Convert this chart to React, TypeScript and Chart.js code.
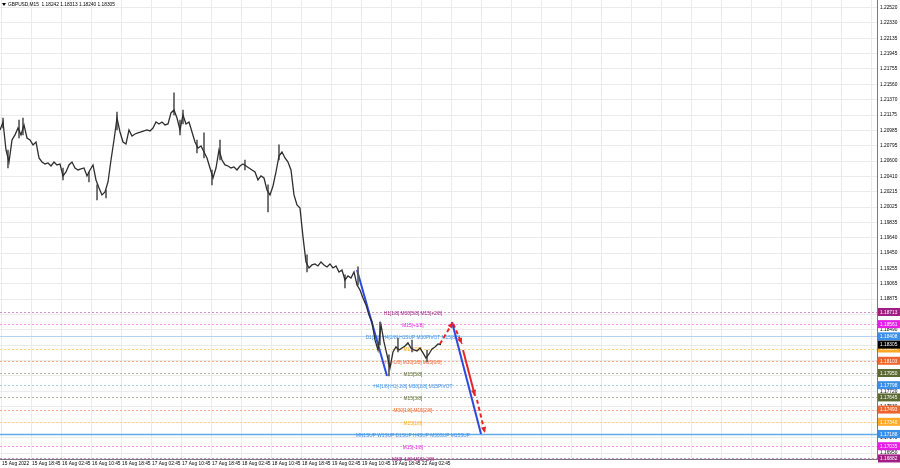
import React, { useEffect, useRef } from 'react';
import { Chart, registerables } from 'chart.js';

Chart.register(...registerables);

const symbolTitle = 'GBPUSD,M15  1.18242 1.18313 1.18240 1.18305';
const lastPrice = 1.18305;

// close prices sampled every BAR_STEP bars
const BAR_STEP = 3.2;
const closes = [
  1.20988, 1.21088, 1.20738, 1.20588, 1.20863, 1.20926, 1.21013, 1.20926, 1.21051, 1.20888,
  1.20863, 1.20801, 1.20838, 1.20638, 1.20588, 1.20563, 1.20576, 1.20538, 1.20588, 1.20551,
  1.20563, 1.20413, 1.20463, 1.20551, 1.20588, 1.20513, 1.20488, 1.20501, 1.20513, 1.20413,
  1.20488, 1.20551, 1.20363, 1.20263, 1.20176, 1.20213, 1.20338, 1.20613, 1.20863, 1.21138,
  1.20963, 1.20838, 1.20813, 1.20988, 1.20913, 1.20938, 1.20951, 1.20963, 1.20976, 1.20988,
  1.20976, 1.21013, 1.21088, 1.21063, 1.21088, 1.21051, 1.21063, 1.21201, 1.21238, 1.21138,
  1.20988, 1.21176, 1.21063, 1.21088, 1.20963, 1.20838, 1.20763, 1.20788, 1.20713, 1.20638,
  1.20513, 1.20388, 1.20513, 1.20738, 1.20613, 1.20551, 1.20538, 1.20513, 1.20526, 1.20488,
  1.20538, 1.20563, 1.20538, 1.20513, 1.20488, 1.20463, 1.20363, 1.20413, 1.20388, 1.20238,
  1.20176, 1.20288, 1.20463, 1.20663, 1.20713, 1.20638, 1.20588, 1.20488, 1.20176, 1.20051,
  1.20013, 1.19651, 1.19338, 1.19263, 1.19301, 1.19313, 1.19288, 1.19338, 1.19301, 1.19276,
  1.19313, 1.19263, 1.19288, 1.19213, 1.19238, 1.19113, 1.19163, 1.19138, 1.19213, 1.19051,
  1.18988, 1.18888, 1.18801, 1.18676, 1.18588, 1.18363, 1.18238, 1.18551, 1.18338, 1.18176,
  1.18013, 1.18213, 1.18276, 1.18238, 1.18263, 1.18288, 1.18326, 1.18263, 1.18238, 1.18226,
  1.18263, 1.18201, 1.18138, 1.18188, 1.18251, 1.18276, 1.18313, 1.18305,
];

// notable candle wicks: bar index, high, low
const wickBars = [
  3.2, 8.5, 20.3, 24.5, 67.2, 94.9, 103.5, 113.1, 124.8, 185.6, 192, 195.2, 210.1, 217.6,
  226.1, 234.7, 261.3, 285.9, 297.6, 327.5, 368, 381.9, 405.3, 414.9, 424.5, 439.5, 455.5,
];
const wickHighs = [
  1.21138, 1.20738, 1.21113, 1.21138, 1.20513, 1.20463, 1.20301, 1.20238, 1.21213, 1.21451,
  1.21113, 1.21238, 1.20863, 1.20951, 1.20488, 1.20863, 1.20613, 1.20301, 1.20801, 1.19426,
  1.19176, 1.19276, 1.18588, 1.18176, 1.18388, 1.18363, 1.18238,
];
const wickLows = [
  1.21013, 1.20513, 1.20888, 1.20926, 1.20363, 1.20338, 1.20113, 1.20138, 1.20988, 1.21176,
  1.20926, 1.21063, 1.20701, 1.20638, 1.20301, 1.20613, 1.20488, 1.19963, 1.20613, 1.19213,
  1.19013, 1.19051, 1.18301, 1.17913, 1.18213, 1.18213, 1.18088,
];

const xTickLabels = [
  '15 Aug 2022', '15 Aug 18:45', '16 Aug 02:45', '16 Aug 10:45', '16 Aug 18:45',
  '17 Aug 02:45', '17 Aug 10:45', '17 Aug 18:45', '18 Aug 02:45', '18 Aug 10:45',
  '18 Aug 18:45', '19 Aug 02:45', '19 Aug 10:45', '19 Aug 18:45', '22 Aug 02:45',
];
const X_TICK_FIRST = 2.13;
const X_TICK_STEP = 32;
const X_MAX = 935.5;

const yTicks = [
  1.2252, 1.2233, 1.22135, 1.21945, 1.21755, 1.2156, 1.2137, 1.21175, 1.20985, 1.20795,
  1.206, 1.2041, 1.20215, 1.20025, 1.19835, 1.1964, 1.1945, 1.19255, 1.19065, 1.18875,
  1.1868, 1.1849, 1.183, 1.18105, 1.17915, 1.1772, 1.1753, 1.17335, 1.1714, 1.1695,
];
const Y_MIN = 1.16875;
const Y_MAX = 1.22613;

const levelPrices = [
  1.18713, 1.18561, 1.18408, 1.18256, 1.18103, 1.1795, 1.17798, 1.17645, 1.17493, 1.1734,
  1.17188, 1.17035, 1.16882,
];
const levelLabels = [
  'H1[1/8] M30[5/8] M15[+2/8]',
  'M15[+1/8]',
  'D1[1/8] H4[2/8] H1SUP M30PIVOT M15[8/8]',
  'M15[7/8]',
  'H1[-1/8] M30[3/8] M15[6/8]',
  'M15[5/8]',
  'H4[1/8] H1[-2/8] M30[2/8] M15PIVOT',
  'M15[3/8]',
  'M30[1/8] M15[2/8]',
  'M15[1/8]',
  'MN1SUP W1SUP D1SUP H4SUP M30SUP M15SUP',
  'M15[-1/8]',
  'M30[-1/8] M15[-2/8]',
];
const PURPLE = '#a01d86';
const MAGENTA = '#e41ee4';
const BLUE = '#3a8fe6';
const ORANGE = '#ffa726';
const ORANGERED = '#ec652c';
const OLIVE = '#5a6a30';
const levelColors = [
  PURPLE, MAGENTA, BLUE, ORANGE, ORANGERED, OLIVE, BLUE, OLIVE, ORANGERED, ORANGE, BLUE, MAGENTA, PURPLE,
];
const levelLineColors = [
  '#d590c8', '#f09af0', '#b2d4f3', '#ffcf88', '#f4ae8c', '#b4b8a0', '#a8ccef', '#b4b8a0', '#f4ae8c',
  '#ffcf88', '#62aaea', '#f09af0', '#d590c8',
];
const levelSolid = [false, false, true, false, false, false, false, false, false, false, true, false, false];
const LABEL_X = 440.5;

// projection lines (bar index, price)
const blueLine1X = [380.8, 412.8];
const blueLine1Y = [1.19238, 1.17913];
const blueLine2X = [482.1, 513.1];
const blueLine2Y = [1.18588, 1.17188];
const redLeg1X = [469.3, 483.2];
const redLeg1Y = [1.18313, 1.18588];
const redLeg2X = [483.6, 492.8];
const redLeg2Y = [1.18563, 1.18313];
const redLeg3X = [493.9, 506.7];
const redLeg3Y = [1.18238, 1.17663];
const redLeg4X = [508.8, 517.3];
const redLeg4Y = [1.17613, 1.172];

const FONT = '"Liberation Sans", Arial, sans-serif';

const pts = (xs: number[], ys: number[]) => xs.map((x, i) => ({ x, y: ys[i] }));

const overlayPlugin = {
  id: 'overlay',
  beforeDatasetsDraw(chart: any) {
    const { ctx, chartArea, scales } = chart;
    const x = scales.x;
    const y = scales.y;
    ctx.save();
    ctx.beginPath();
    ctx.rect(chartArea.left, chartArea.top, chartArea.right - chartArea.left, chartArea.bottom - chartArea.top + 2);
    ctx.clip();
    levelPrices.forEach((p, i) => {
      const py = Math.round(y.getPixelForValue(p)) + 0.5;
      ctx.strokeStyle = levelLineColors[i];
      ctx.lineWidth = i === 10 ? 1.5 : 1;
      ctx.setLineDash(levelSolid[i] ? [] : [2, 2]);
      ctx.beginPath();
      ctx.moveTo(chartArea.left, py);
      ctx.lineTo(chartArea.right, py);
      ctx.stroke();
    });
    ctx.setLineDash([]);
    ctx.font = '4.8px ' + FONT;
    ctx.textAlign = 'center';
    ctx.textBaseline = 'middle';
    const lx = x.getPixelForValue(LABEL_X);
    levelPrices.forEach((p, i) => {
      ctx.fillStyle = levelColors[i];
      ctx.fillText(levelLabels[i], lx, y.getPixelForValue(p) + 1.5);
    });
    ctx.restore();
  },
  afterDraw(chart: any) {
    const { ctx, chartArea, scales } = chart;
    const y = scales.y;
    ctx.save();
    // arrowheads on red legs
    [4, 5, 6, 7].forEach((di) => {
      const meta = chart.getDatasetMeta(di);
      const a = meta.data[0];
      const b = meta.data[1];
      const ang = Math.atan2(b.y - a.y, b.x - a.x);
      const len = 6;
      const w = 2.6;
      ctx.fillStyle = '#e8262a';
      ctx.beginPath();
      ctx.moveTo(b.x, b.y);
      ctx.lineTo(b.x - len * Math.cos(ang) + w * Math.sin(ang), b.y - len * Math.sin(ang) - w * Math.cos(ang));
      ctx.lineTo(b.x - len * Math.cos(ang) - w * Math.sin(ang), b.y - len * Math.sin(ang) + w * Math.cos(ang));
      ctx.closePath();
      ctx.fill();
    });
    // price tags
    ctx.font = '4.8px ' + FONT;
    ctx.textAlign = 'left';
    ctx.textBaseline = 'middle';
    const tag = (p: number, bg: string, fg: string) => {
      const py = y.getPixelForValue(p);
      ctx.fillStyle = bg;
      ctx.fillRect(chartArea.right + 1, py - 4, 23, 8);
      ctx.fillStyle = fg;
      ctx.fillText(p.toFixed(5), chartArea.right + 3, py + 0.5);
    };
    levelPrices.forEach((p, i) => tag(p, levelColors[i], '#ffffff'));
    tag(lastPrice, '#000000', '#ffffff');
    // title
    ctx.fillStyle = '#000';
    ctx.beginPath();
    ctx.moveTo(2, 3);
    ctx.lineTo(6, 3);
    ctx.lineTo(4, 6);
    ctx.closePath();
    ctx.fill();
    ctx.font = '4.8px ' + FONT;
    ctx.textBaseline = 'middle';
    ctx.fillText(symbolTitle, 8, 5);
    ctx.restore();
  },
};

export default function App() {
  const ref = useRef<HTMLCanvasElement>(null);
  useEffect(() => {
    document.body.style.margin = '0';
    const canvas = ref.current!;
    const chart = new Chart(canvas, {
      type: 'line',
      data: {
        datasets: [
          {
            data: closes.map((c, i) => ({ x: i * BAR_STEP, y: c })),
            borderColor: '#2e2e2e',
            borderWidth: 1.3,
            pointRadius: 0,
            tension: 0,
          },
          {
            type: 'bar',
            data: wickBars.map((b, i) => ({ x: b, y: [wickLows[i], wickHighs[i]] })),
            backgroundColor: '#5a5a5a',
            barThickness: 1,
            grouped: false,
          },
          { data: pts(blueLine1X, blueLine1Y), borderColor: '#2c49e0', borderWidth: 2, pointRadius: 0 },
          { data: pts(blueLine2X, blueLine2Y), borderColor: '#2c49e0', borderWidth: 2, pointRadius: 0 },
          { data: pts(redLeg1X, redLeg1Y), borderColor: '#e8262a', borderWidth: 2, borderDash: [4, 3], pointRadius: 0 },
          { data: pts(redLeg2X, redLeg2Y), borderColor: '#e8262a', borderWidth: 2, borderDash: [4, 3], pointRadius: 0 },
          { data: pts(redLeg3X, redLeg3Y), borderColor: '#e8262a', borderWidth: 2, pointRadius: 0 },
          { data: pts(redLeg4X, redLeg4Y), borderColor: '#e8262a', borderWidth: 2, borderDash: [4, 3], pointRadius: 0 },
        ],
      },
      options: {
        animation: false,
        responsive: false,
        devicePixelRatio: 1,
        layout: { padding: 0 },
        plugins: { legend: { display: false }, tooltip: { enabled: false } },
        scales: {
          x: {
            type: 'linear',
            min: 0,
            max: X_MAX,
            offset: false,
            afterBuildTicks: (s: any) => {
              const t = [];
              for (let v = X_TICK_FIRST; v < X_MAX; v += X_TICK_STEP) t.push({ value: v });
              s.ticks = t;
            },
            afterFit: (s: any) => {
              s.height = 9;
              s.paddingLeft = 0;
              s.paddingRight = 0;
            },
            grid: { color: '#ebebeb', drawTicks: false, offset: false },
            border: { display: true, color: '#7a7a7a' },
            ticks: {
              autoSkip: false,
              maxRotation: 0,
              align: 'start',
              padding: 2,
              color: '#000',
              font: { size: 4.8, family: FONT },
              callback: (_v: any, i: number) => xTickLabels[i] ?? '',
            },
          },
          y: {
            type: 'linear',
            position: 'right',
            min: Y_MIN,
            max: Y_MAX,
            afterBuildTicks: (s: any) => {
              s.ticks = yTicks.map((v) => ({ value: v }));
            },
            afterFit: (s: any) => {
              s.width = 23;
              s.paddingTop = 0;
              s.paddingBottom = 0;
            },
            grid: { color: '#ebebeb', drawTicks: false },
            border: { display: true, color: '#7a7a7a' },
            ticks: {
              padding: 3,
              color: '#000',
              font: { size: 4.8, family: FONT },
              callback: (v: any) => Number(v).toFixed(5),
            },
          },
        },
      },
      plugins: [overlayPlugin],
    } as any);
    return () => chart.destroy();
  }, []);
  return (
    <div style={{ width: 900, height: 468 }}>
      <canvas ref={ref} width={900} height={468} />
    </div>
  );
}
